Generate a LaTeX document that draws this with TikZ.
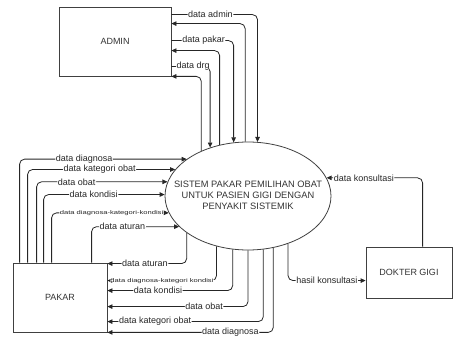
\documentclass[tikz,border=0pt]{standalone}
\usepackage{fontspec}
\setmainfont{Liberation Sans}
\usepackage{graphicx}
\usetikzlibrary{arrows.meta,shapes.geometric}
\begin{document}
\begin{tikzpicture}[x=1pt,y=-1pt,
  box/.style={draw=black!75, line width=0.8pt, inner sep=0pt, font=\fontsize{9}{11}\selectfont, text=black!80},
  flow/.style={draw=black!85, line width=0.8pt, rounded corners=5pt, -{Triangle[length=5pt,width=4.5pt]}},
  lbl/.style={fill=white, inner sep=0.6pt, font=\fontsize{9}{10}\selectfont, text=black!85},
  tinylbl/.style={fill=white, inner sep=0.4pt, font=\fontsize{5.5}{6}\selectfont, text=black!85}]
\useasboundingbox (0,0) rectangle (453,339);
\node[box, minimum width=112pt, minimum height=69pt] (admin) at (115,41.5) {ADMIN};
\node[box, minimum width=94pt, minimum height=69pt] (pakar) at (60,297.5) {PAKAR};
\node[box, minimum width=86pt, minimum height=51pt] (dokter) at (409,272.5) {DOKTER GIGI};
\node[draw=black!75, line width=0.8pt, ellipse, minimum width=166pt, minimum height=108pt, inner sep=0pt, font=\fontsize{9.3}{11}\selectfont, text=black!80] (sys) at (248,196) {\makebox[0pt]{\begin{tabular}{@{}c@{}}SISTEM PAKAR PEMILIHAN OBAT\\UNTUK PASIEN GIGI DENGAN\\PENYAKIT SISTEMIK\end{tabular}}};
% admin
\draw[flow] ([yshift=-8pt]admin.north east) -| node[lbl,pos=.227]{data admin} (sys.80.5);
\draw[flow] (sys.93.2) |- ([yshift=-17pt]admin.north east);
\draw[flow] ([yshift=-34pt]admin.north east) -| node[lbl,pos=.258]{data pakar} (sys.105.8);
\draw[flow] (sys.119.8) |- ([yshift=-44pt]admin.north east);
\draw[flow] ([yshift=-60pt]admin.north east) -| node[lbl,pos=.282]{data drg} (sys.128.4);
\draw[flow] (sys.136.6) |- (admin.south east);
% pakar to system
\draw[flow] ([xshift=7pt]pakar.north west) |- node[lbl,pos=.693]{data diagnosa} (sys.149.8);
\draw[flow] ([xshift=15pt]pakar.north west) |- node[lbl,pos=.744]{data kategori obat} (sys.160.3);
\draw[flow] ([xshift=24pt]pakar.north west) |- node[lbl,pos=.653]{data obat} (sys.170.1);
\draw[flow] ([xshift=31pt]pakar.north west) |- node[lbl,pos=.707]{data kondisi} (sys.179.3);
\draw[flow] ([xshift=39pt]pakar.north west) |- node[tinylbl,pos=.756]{\scalebox{1.38}[1]{data diagnosa-kategori-kondisi}} (sys.192.2);
\draw[flow] ([xshift=79pt]pakar.north west) |- node[lbl,pos=.676]{data aturan} (sys.204.5);
% system to pakar
\draw[flow] (sys.211) |- node[lbl,pos=.763]{data aturan} ([yshift=-1pt]pakar.north east);
\draw[flow] (sys.238.3) |- node[tinylbl,pos=.75]{\scalebox{1.38}[1]{data diagnosa-kategori kondisi}} ([yshift=-18pt]pakar.north east);
\draw[flow] (sys.254.2) |- node[lbl,pos=.798]{data kondisi} ([yshift=-28pt]pakar.north east);
\draw[flow] (sys.270) |- node[lbl,pos=.656]{data obat} ([yshift=-44pt]pakar.north east);
\draw[flow] (sys.286.8) |- node[lbl,pos=.847]{data kategori obat} ([yshift=-59pt]pakar.north east);
\draw[flow] (sys.296.9) |- node[lbl,pos=.629]{data diagnosa} (pakar.south east);
% dokter
\draw[flow] (sys.310.2) |- node[lbl,pos=.75]{hasil konsultasi} ([yshift=-34pt]dokter.north west);
\draw[flow] ([xshift=57pt]dokter.north west) |- node[lbl,pos=.806]{data konsultasi} (sys.13.7);
\end{tikzpicture}
\end{document}
